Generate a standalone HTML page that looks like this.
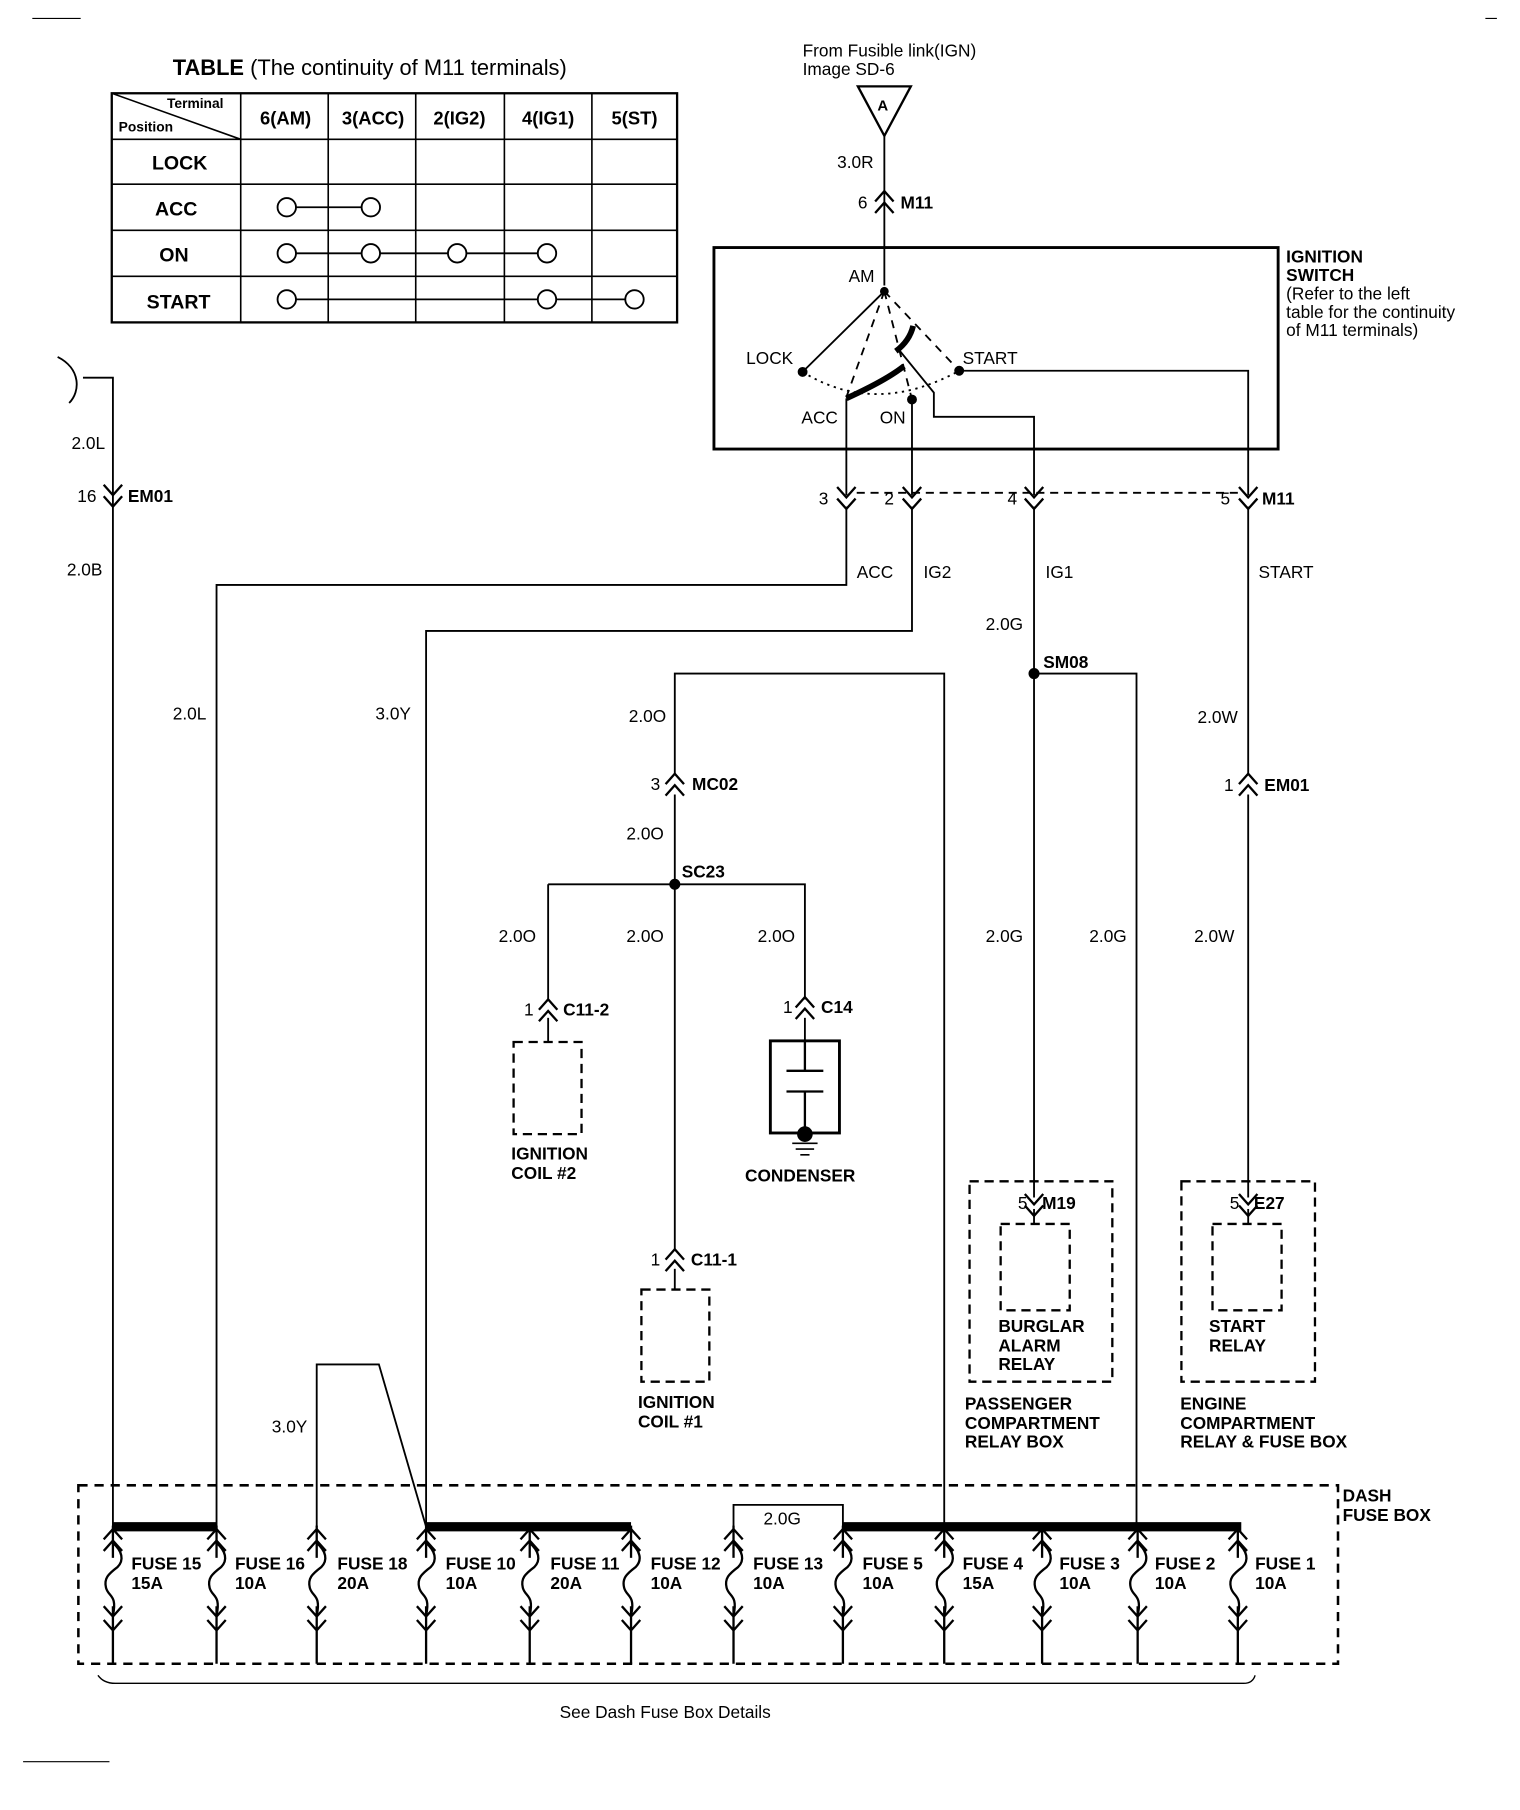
<!DOCTYPE html>
<html><head><meta charset="utf-8"><style>
html,body{margin:0;padding:0;background:#fff}
svg{display:block}
text{font-family:"Liberation Sans",Arial,sans-serif;fill:#000}
.b{font-weight:bold}
</style></head><body>
<svg width="1520" height="1810" viewBox="0 0 1320 1572" xmlns="http://www.w3.org/2000/svg">
<defs>
<path id="dn" d="M-8,-9 L0,0 L8,-9 M-8,1 L0,10 L8,1" fill="none" stroke="#000" stroke-width="2"/>
<path id="up" d="M-8,9 L0,0 L8,9 M-8,-1 L0,-10 L8,-1" fill="none" stroke="#000" stroke-width="2"/>
<g id="fuse" fill="none" stroke="#000" stroke-width="2">
<path d="M0,-30 V-2"/>
<path d="M-8,-18 L0,-27 L8,-18 M-8,-8 L0,-17 L8,-8"/>
<path d="M0,-15 C8,-8 10,0 4,6 C-4,12 -8,16 -6,24 C-4,32 4,30 0,48"/>
<path d="M0,40 V90 M-8,40 L0,49 L8,40 M-8,52 L0,61 L8,52"/>
</g>
</defs>
<g fill="none" stroke="#000" stroke-width="1.6">
<!-- top border bits -->
<path d="M28,16 H70 M1290,16 H1300 M20,1530 H95" stroke-width="1"/>
<!-- table -->
<rect x="97" y="81" width="491" height="199" stroke-width="2"/>
<path d="M97,121 H588 M97,160 H588 M97,200 H588 M97,240 H588 M209,81 V280 M285,81 V280 M361,81 V280 M438,81 V280 M514,81 V280 M588,81 V280 M97,81 L209,121" stroke-width="1.4"/>
<path d="M249,180 H322 M249,220 H475 M249,260 H551"/>
<circle cx="249" cy="180" r="8" fill="#fff"/><circle cx="322" cy="180" r="8" fill="#fff"/>
<circle cx="249" cy="220" r="8" fill="#fff"/><circle cx="322" cy="220" r="8" fill="#fff"/><circle cx="397" cy="220" r="8" fill="#fff"/><circle cx="475" cy="220" r="8" fill="#fff"/>
<circle cx="249" cy="260" r="8" fill="#fff"/><circle cx="475" cy="260" r="8" fill="#fff"/><circle cx="551" cy="260" r="8" fill="#fff"/>
<!-- from fusible link -->
<path d="M745,75 H791 L768,118 Z" stroke-width="2"/>
<path d="M768,118 V248"/>
<!-- ignition switch -->
<rect x="620" y="215" width="490" height="175" stroke-width="2.5"/>
<path d="M768,253 L697,323"/>
<path d="M768,253 L735,345 M768,253 L792,347 M768,253 L833,322" stroke-dasharray="7,6"/>
<path d="M697,323 Q760,362 833,322" stroke-dasharray="2,4"/>
<path d="M735,346 Q770,330 785,318" stroke-width="5"/>
<path d="M778,305 Q790,296 793,283" stroke-width="5"/>
<path d="M780,303 L811,341 V362 H898 V430 M833,322 H1084 V430 M735,346 V430 M792,347 V430"/>
<circle cx="768" cy="253" r="3" fill="#000"/><circle cx="697" cy="323" r="3.5" fill="#000"/><circle cx="833" cy="322" r="3.5" fill="#000"/><circle cx="792" cy="347" r="3.5" fill="#000"/>
<path d="M744,428 H1076" stroke-dasharray="7,5"/>
<!-- left EM01 wire -->
<path d="M50,310 C70,320 70,340 60,350 M72,328 H98 V1326"/>
<!-- ACC -->
<path d="M735,440 V508 H188 V1326"/>
<!-- IG2 -->
<path d="M792,440 V548 H370 V1326"/>
<!-- IG1 -->
<path d="M898,440 V1040 M898,585 H987 V1326"/>
<circle cx="898" cy="585" r="4" fill="#000"/>
<!-- START -->
<path d="M1084,440 V672 M1084,690 V1040"/>
<!-- MC02 / SC23 -->
<path d="M820,1326 V585 H586 V672 M586,690 V1085 M476,768 H699 V868 M476,768 V868"/>
<circle cx="586" cy="768" r="4" fill="#000"/>
<!-- coils -->
<rect x="446" y="905" width="59" height="80" stroke-dasharray="8,5" stroke-width="2"/>
<path d="M476,884 V905"/>
<rect x="557" y="1120" width="59" height="80" stroke-dasharray="8,5" stroke-width="2"/>
<path d="M586,1102 V1120"/>
<!-- condenser -->
<path d="M699,884 V904"/>
<rect x="669" y="904" width="60" height="80" stroke-width="2.5"/>
<path d="M699,904 V930 M683,930 H715 M683,948 H715 M699,948 V985" stroke-width="2"/>
<circle cx="699" cy="985" r="6" fill="#000"/>
<path d="M688,993 H710 M691,998 H707 M695,1003 H703" stroke-width="1.4"/>
<!-- relay boxes -->
<rect x="842" y="1026" width="124" height="174" stroke-dasharray="8,5" stroke-width="2"/>
<rect x="869" y="1063" width="60" height="75" stroke-dasharray="8,5" stroke-width="2"/>
<path d="M898,1050 V1063"/>
<rect x="1026" y="1026" width="116" height="174" stroke-dasharray="8,5" stroke-width="2"/>
<rect x="1053" y="1063" width="60" height="75" stroke-dasharray="8,5" stroke-width="2"/>
<path d="M1084,1050 V1063"/>
<!-- fuse 18 jumper -->
<path d="M275,1326 V1185 H329 L370,1326"/>
<!-- fuse 12/13 link -->
<path d="M637,1326 V1307 H732 V1326"/>
<!-- dash fuse box -->
<rect x="68" y="1290" width="1094" height="155" stroke-dasharray="8,6" stroke-width="2.2"/>
<path d="M98,1326 H188 M370,1326 H548 M732,1326 H1078" stroke-width="8"/>
<path d="M85,1455 Q90,1462 100,1462 H1080 Q1088,1462 1090,1455" stroke-width="1.2"/>
</g>
<!-- connectors -->
<use href="#up" x="768" y="176"/>
<use href="#dn" x="98" y="430"/>
<use href="#dn" x="735" y="432"/><use href="#dn" x="792" y="432"/><use href="#dn" x="898" y="432"/><use href="#dn" x="1084" y="432"/>
<use href="#up" x="586" y="682"/><use href="#up" x="1084" y="682"/>
<use href="#up" x="476" y="878"/><use href="#up" x="699" y="876"/><use href="#up" x="586" y="1095"/>
<use href="#dn" x="898" y="1046"/><use href="#dn" x="1084" y="1046"/>
<use href="#fuse" x="98" y="1355"/><use href="#fuse" x="188" y="1355"/><use href="#fuse" x="275" y="1355"/>
<use href="#fuse" x="370" y="1355"/><use href="#fuse" x="460" y="1355"/><use href="#fuse" x="548" y="1355"/>
<use href="#fuse" x="637" y="1355"/><use href="#fuse" x="732" y="1355"/><use href="#fuse" x="820" y="1355"/>
<use href="#fuse" x="905" y="1355"/><use href="#fuse" x="988" y="1355"/><use href="#fuse" x="1075" y="1355"/>
<!-- text -->
<g font-size="15">
<text x="150" y="65" font-size="19"><tspan class="b">TABLE</tspan> (The continuity of M11 terminals)</text>
<text x="145" y="94" font-size="12" class="b">Terminal</text>
<text x="103" y="114" font-size="12" class="b">Position</text>
<g class="b" font-size="16" text-anchor="middle">
<text x="248" y="108">6(AM)</text><text x="324" y="108">3(ACC)</text><text x="399" y="108">2(IG2)</text><text x="476" y="108">4(IG1)</text><text x="551" y="108">5(ST)</text>
<text x="156" y="147" font-size="17">LOCK</text><text x="153" y="187" font-size="17">ACC</text><text x="151" y="227" font-size="17">ON</text><text x="155" y="268" font-size="17">START</text>
</g>
<text x="697" y="49">From Fusible link(IGN)</text>
<text x="697" y="65">Image  SD-6</text>
<text x="762" y="96" class="b" font-size="13">A</text>
<text x="727" y="146">3.0R</text>
<text x="745" y="181">6</text><text x="782" y="181" class="b">M11</text>
<text x="1117" y="228" class="b">IGNITION</text><text x="1117" y="244" class="b">SWITCH</text>
<text x="1117" y="260">(Refer to the left</text><text x="1117" y="276">table for the continuity</text><text x="1117" y="292">of M11 terminals)</text>
<text x="737" y="245">AM</text><text x="648" y="316">LOCK</text><text x="836" y="316">START</text><text x="696" y="368">ACC</text><text x="764" y="368">ON</text>
<text x="711" y="438">3</text><text x="768" y="438">2</text><text x="875" y="438">4</text><text x="1060" y="438">5</text><text x="1096" y="438" class="b">M11</text>
<text x="62" y="390">2.0L</text><text x="67" y="436">16</text><text x="111" y="436" class="b">EM01</text><text x="58" y="500">2.0B</text>
<text x="744" y="502">ACC</text><text x="802" y="502">IG2</text><text x="908" y="502">IG1</text><text x="1093" y="502">START</text>
<text x="856" y="547">2.0G</text><text x="906" y="580" class="b">SM08</text>
<text x="150" y="625">2.0L</text><text x="326" y="625">3.0Y</text><text x="546" y="627">2.0O</text><text x="1040" y="628">2.0W</text>
<text x="565" y="686">3</text><text x="601" y="686" class="b">MC02</text><text x="1063" y="687">1</text><text x="1098" y="687" class="b">EM01</text>
<text x="544" y="729">2.0O</text><text x="592" y="762" class="b">SC23</text>
<text x="433" y="818">2.0O</text><text x="544" y="818">2.0O</text><text x="658" y="818">2.0O</text><text x="856" y="818">2.0G</text><text x="946" y="818">2.0G</text><text x="1037" y="818">2.0W</text>
<text x="455" y="882">1</text><text x="489" y="882" class="b">C11-2</text><text x="680" y="880">1</text><text x="713" y="880" class="b">C14</text>
<text x="444" y="1007" class="b">IGNITION</text><text x="444" y="1024" class="b">COIL #2</text>
<text x="647" y="1026" class="b">CONDENSER</text>
<text x="884" y="1050">5</text><text x="905" y="1050" class="b">M19</text><text x="1068" y="1050">5</text><text x="1089" y="1050" class="b">E27</text>
<text x="565" y="1099">1</text><text x="600" y="1099" class="b">C11-1</text>
<text x="867" y="1157" class="b">BURGLAR</text><text x="867" y="1174" class="b">ALARM</text><text x="867" y="1190" class="b">RELAY</text>
<text x="1050" y="1157" class="b">START</text><text x="1050" y="1174" class="b">RELAY</text>
<text x="554" y="1223" class="b">IGNITION</text><text x="554" y="1240" class="b">COIL #1</text>
<text x="838" y="1224" class="b">PASSENGER</text><text x="838" y="1241" class="b">COMPARTMENT</text><text x="838" y="1257" class="b">RELAY BOX</text>
<text x="1025" y="1224" class="b">ENGINE</text><text x="1025" y="1241" class="b">COMPARTMENT</text><text x="1025" y="1257" class="b">RELAY &amp; FUSE BOX</text>
<text x="236" y="1244">3.0Y</text>
<text x="1166" y="1304" class="b">DASH</text><text x="1166" y="1321" class="b">FUSE BOX</text>
<text x="663" y="1324">2.0G</text>
<g class="b">
<text x="114" y="1363">FUSE 15</text><text x="114" y="1380">15A</text>
<text x="204" y="1363">FUSE 16</text><text x="204" y="1380">10A</text>
<text x="293" y="1363">FUSE 18</text><text x="293" y="1380">20A</text>
<text x="387" y="1363">FUSE 10</text><text x="387" y="1380">10A</text>
<text x="478" y="1363">FUSE 11</text><text x="478" y="1380">20A</text>
<text x="565" y="1363">FUSE 12</text><text x="565" y="1380">10A</text>
<text x="654" y="1363">FUSE 13</text><text x="654" y="1380">10A</text>
<text x="749" y="1363">FUSE 5</text><text x="749" y="1380">10A</text>
<text x="836" y="1363">FUSE 4</text><text x="836" y="1380">15A</text>
<text x="920" y="1363">FUSE 3</text><text x="920" y="1380">10A</text>
<text x="1003" y="1363">FUSE 2</text><text x="1003" y="1380">10A</text>
<text x="1090" y="1363">FUSE 1</text><text x="1090" y="1380">10A</text>
</g>
<text x="486" y="1492">See Dash Fuse Box Details</text>
</g>
</svg>
</body></html>
